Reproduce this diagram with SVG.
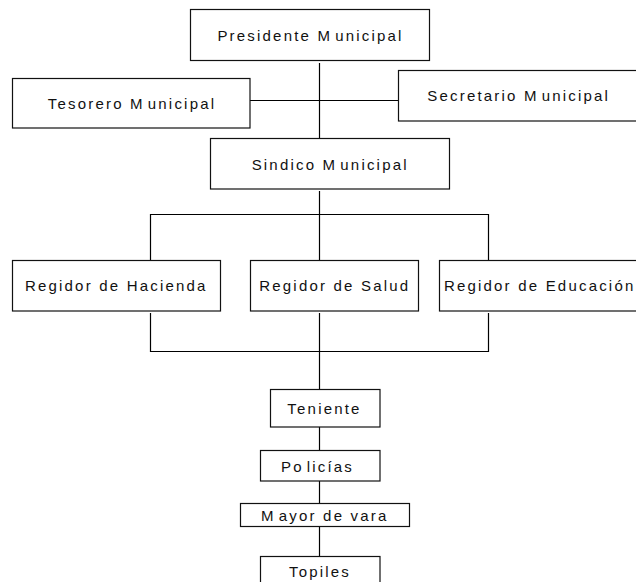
<svg xmlns="http://www.w3.org/2000/svg" width="636" height="582" viewBox="0 0 636 582">
<style>
.box{fill:#fff;stroke:#111;stroke-width:1.2}
.lbl{font-family:"Liberation Sans",Arial,sans-serif;font-size:15px;letter-spacing:2.2px;fill:#111;text-anchor:middle}
.con{fill:none;stroke:#000;stroke-width:1.2}
</style>
<rect width="636" height="582" fill="#fff"/>
<g id="connectors">
<path class="con" d="M319.5 63 V138"/>
<path class="con" d="M250 100.5 H399"/>
<path class="con" d="M319.5 191 V260"/>
<path class="con" d="M150.5 260 V214.5 H488.5 V260"/>
<path class="con" d="M150.5 313 V351.5 H488.5 V313"/>
<path class="con" d="M319.5 313 V389"/>
<path class="con" d="M319.5 427 V450"/>
<path class="con" d="M319.5 481 V503"/>
<path class="con" d="M319.5 526 V556"/>
</g>
<g id="presidente"><rect class="box" x="190.5" y="9.5" width="239" height="51"/><text class="lbl" x="310.5" y="40.5">Presidente M<tspan dx="3">unicipal</tspan></text></g>
<g id="tesorero"><rect class="box" x="12.5" y="78.5" width="237.5" height="49.5"/><text class="lbl" x="132" y="109">Tesorero M<tspan dx="3">unicipal</tspan></text></g>
<g id="secretario"><rect class="box" x="398.5" y="70.5" width="240" height="50.5"/><text class="lbl" x="518.7" y="101">Secretario M<tspan dx="3">unicipal</tspan></text></g>
<g id="sindico"><rect class="box" x="210.5" y="138.5" width="239" height="50.5"/><text class="lbl" x="330.2" y="170">Sindico M<tspan dx="3">unicipal</tspan></text></g>
<g id="hacienda"><rect class="box" x="12.5" y="260.5" width="208" height="50.5"/><text class="lbl" x="116.3" y="291">Regidor de Hacienda</text></g>
<g id="salud"><rect class="box" x="250.5" y="260.5" width="168" height="50.5"/><text class="lbl" x="334.8" y="291">Regidor de Salud</text></g>
<g id="educacion"><rect class="box" x="439.5" y="260.5" width="200" height="50.5"/><text class="lbl" x="539.7" y="291">Regidor de Educación</text></g>
<g id="teniente"><rect class="box" x="270.5" y="389.5" width="109.5" height="37.5"/><text class="lbl" x="324.5" y="414.3">Teniente</text></g>
<g id="policias"><rect class="box" x="260.5" y="450.5" width="119.5" height="30.5"/><text class="lbl" x="317.5" y="471.7">Po<tspan dx="3">licías</tspan></text></g>
<g id="mayor"><rect class="box" x="240.5" y="503.5" width="169" height="23"/><text class="lbl" x="324.8" y="520.7">M<tspan dx="3">ayor de vara</tspan></text></g>
<g id="topiles"><rect class="box" x="260.5" y="556.5" width="119.5" height="40"/><text class="lbl" x="320" y="577.3">Topiles</text></g>
</svg>
